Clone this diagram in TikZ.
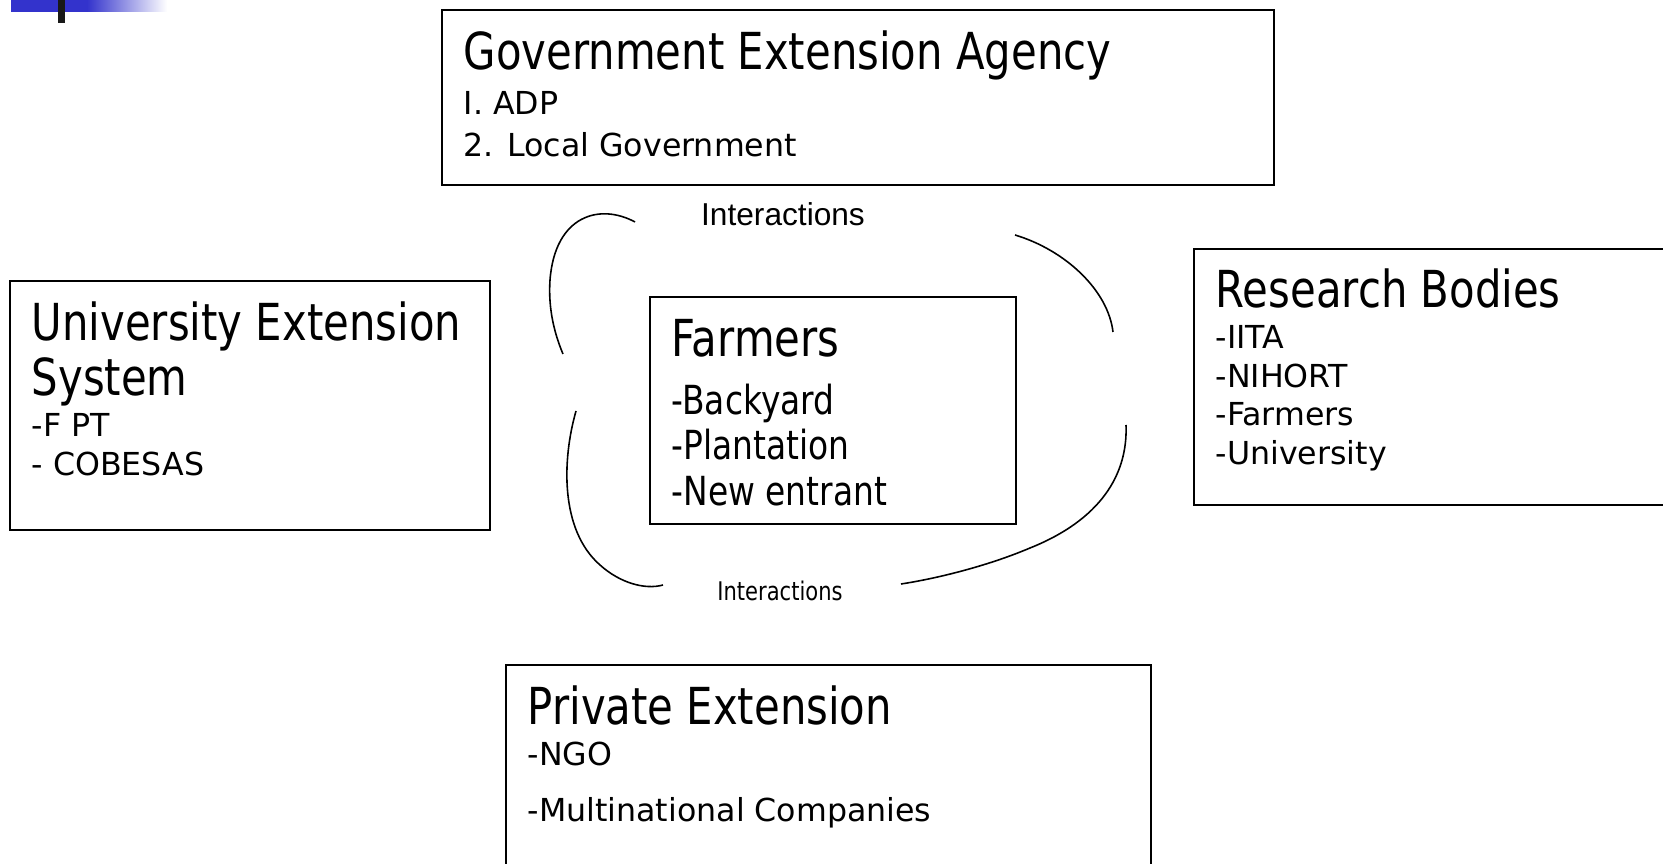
\documentclass[tikz,border=0pt]{standalone}
\usepackage{fontspec}
\usepackage{tikz}
\usetikzlibrary{positioning}
\newfontfamily\headfont[FakeStretch=0.82]{DejaVu Sans}
\newfontfamily\itemfont{DejaVu Sans}
\newfontfamily\arialfont{Liberation Sans}
\definecolor{slideblue}{RGB}{51,51,204}

\begin{document}
\begin{tikzpicture}
        [
            x=0.01cm, y=-0.01cm,
            box/.style={rectangle, draw=black, line width=0.5pt, inner sep=0pt},
            head/.style={anchor=base west, inner sep=0pt, font=\headfont\fontsize{14.5}{16}\selectfont},
            sub/.style={anchor=base west, inner sep=0pt, font=\headfont\fontsize{11.4}{13}\selectfont},
            entry/.style={anchor=base west, inner sep=0pt, font=\itemfont\fontsize{9}{11}\selectfont},
            loop/.style={line width=0.45pt},
        ]
        \path[use as bounding box, clip] (0,0) rectangle (1663,864);
        % slide corner
        \fill[slideblue] (11,0) rectangle (87,12);
        \shade[left color=slideblue, right color=white] (87,0) rectangle (167,12);
        \fill[black!90] (58,0) rectangle (65,23);

        % boxes
        \node[box, minimum width=8.32cm, minimum height=1.75cm] (gov) at (858,97.5) {};
        \node[box, minimum width=4.80cm, minimum height=2.49cm] (univ) at (250,405.5) {};
        \node[box, minimum width=3.66cm, minimum height=2.27cm] (farm) at (833,410.5) {};
        \node[box, minimum width=4.86cm, minimum height=2.56cm] (res) at (1437,377) {};
        \node[box, minimum width=6.45cm, minimum height=2.25cm] (priv) at (828.5,777.5) {};

        % texts
        \node[head] (govT) at (463,70) {Government Extension Agency};
        \node[entry] (gov1) at (463,115) {I. ADP};
        \node[entry] (gov2) at (463,157) {2. Local Government};

        \node[head] (univT) at (31,341) {University Extension};
        \node[head] (univS) at (31,396) {System};
        \node[entry] (univ1) at (31,437) {-F PT};
        \node[entry] (univ2) at (31,476) {- COBESAS};

        \node[head] (farmT) at (671,357) {Farmers};
        \foreach \txt/\y [count=\i] in {-Backyard/415, -Plantation/460, -New entrant/506}
            \node[sub] (farm\i) at (671,\y) {\txt};

        \node[head] (resT) at (1215,308) {Research Bodies};
        \foreach \txt/\y [count=\i] in {-IITA/349, -NIHORT/388, -Farmers/426, -University/465}
            \node[entry] (res\i) at (1215,\y) {\txt};

        \node[head] (privT) at (527,725) {Private Extension};
        \node[entry] (priv1) at (527,765) {-NGO};
        \node[entry] (priv2) at (527,821) {-Multinational Companies};

        \node[anchor=base, inner sep=0pt, font=\arialfont\fontsize{9}{11}\selectfont] (intTop) at (783,226) {Interactions};
        \node[anchor=base, inner sep=0pt, font=\headfont\fontsize{7.3}{9}\selectfont] (intBot) at (780,601) {Interactions};

        % interaction loops
        \draw[loop] (635,222) .. controls (600,203) and (555,215) .. (550,280) .. controls (548,310) and (555,335) .. (563,354);
        \draw[loop] (1015,235) .. controls (1065,250) and (1108,290) .. (1113,332);
        \draw[loop] (1126,425) .. controls (1128,475) and (1100,520) .. (1030,548) .. controls (990,565) and (940,578) .. (901,584);
        \draw[loop] (576,411) .. controls (562,460) and (560,530) .. (600,565) .. controls (620,583) and (645,590) .. (663,585);
      \end{tikzpicture}
\end{document}
